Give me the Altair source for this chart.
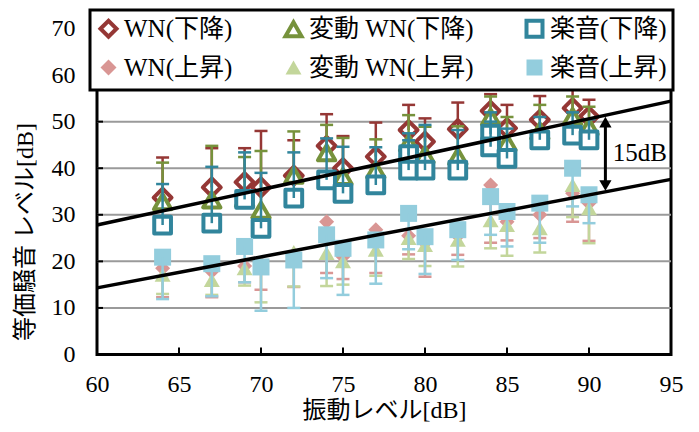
import altair as alt
import pandas as pd

FONT = "Liberation Serif, Times New Roman, serif, Noto Sans CJK JP"

series_names = ["WN(下降)", "変動 WN(下降)", "楽音(下降)", "WN(上昇)", "変動 WN(上昇)", "楽音(上昇)"]
shapes = ["diamond", "triangle-up", "square", "diamond", "triangle-up", "square"]
bar_colors = ["#953735", "#76923C", "#31859C", "#D99694", "#C3D69B", "#93CDDD"]
fills = ["white", "white", "white", "#D99694", "#C3D69B", "#93CDDD"]
strokes = ["#953735", "#76923C", "#31859C", "transparent", "transparent", "transparent"]
msizes = [320, 300, 280, 225, 256, 289]

X_TICKS = [60, 65, 70, 75, 80, 85, 90, 95]
Y_TICKS = [0, 10, 20, 30, 40, 50, 60, 70]
GRID_Y = [10, 20, 30, 40, 50, 60]

xs16 = [64, 67, 69, 70, 72, 74, 75, 77, 79, 80, 82, 84, 85, 87, 89, 90]

wn_down_x = xs16
wn_down_y = [33.7, 35.9, 37.0, 35.9, 38.4, 44.8, 40.0, 42.5, 48.2, 45.7, 48.4, 52.3, 48.6, 50.4, 52.9, 51.1]
wn_down_e = [42.3, 44.3, 44.3, 48.0, 46.0, 51.6, 46.9, 49.8, 53.6, 50.7, 54.1, 55.9, 53.6, 55.5, 57.2, 54.7]

vwn_down_x = xs16
vwn_down_y = [32.8, 33.2, 33.5, 31.0, 38.5, 43.3, 38.2, 39.6, 45.4, 42.9, 42.5, 51.0, 45.5, 48.0, 51.1, 48.9]
vwn_down_e = [41.2, 44.8, 42.4, 43.7, 47.9, 49.3, 46.5, 46.2, 51.4, 48.9, 49.0, 55.4, 51.0, 53.6, 55.4, 53.2]

mu_down_x = [64, 67, 69, 70, 72, 74, 75, 77, 79, 79, 80, 82, 84, 84, 85, 87, 89, 90]
mu_down_y = [27.8, 28.2, 33.3, 27.1, 33.6, 37.5, 34.6, 36.4, 42.9, 39.6, 39.6, 39.6, 47.3, 44.6, 42.1, 46.1, 47.1, 46.1]
mu_down_e = [36.6, 40.3, 43.4, 39.0, 43.4, 46.4, 44.6, 44.5, 47.5, 46.0, 49.3, 48.2, 52.0, 50.0, 48.5, 51.0, 52.0, 50.5]

wn_up_x = xs16
wn_up_y = [18.5, 17.8, 19.0, 19.5, 21.0, 28.5, 21.0, 26.8, 25.5, 24.0, 25.5, 36.4, 28.5, 30.0, 34.6, 32.5]
wn_up_e = [12.3, 12.3, 15.5, 13.9, 14.5, 17.5, 16.2, 17.5, 21.5, 16.7, 21.4, 24.0, 24.5, 25.0, 28.5, 24.4]

vwn_up_x = xs16
vwn_up_y = [17.1, 16.0, 18.5, 19.5, 22.0, 21.8, 20.0, 22.5, 25.0, 23.5, 24.6, 28.8, 27.8, 27.1, 36.4, 31.4]
vwn_up_e = [13.0, 12.8, 14.8, 11.2, 14.6, 14.7, 15.0, 16.9, 20.5, 19.0, 18.9, 22.8, 21.2, 21.9, 29.5, 23.9]

mu_up_x = xs16
mu_up_y = [20.9, 19.5, 23.2, 18.8, 20.3, 25.7, 22.8, 24.6, 30.3, 25.3, 26.8, 33.9, 30.7, 32.5, 40.0, 34.3]
mu_up_e = [11.9, 12.5, 15.5, 9.4, 10.0, 16.4, 12.8, 15.2, 22.6, 17.3, 20.3, 25.7, 23.2, 24.0, 31.8, 28.2]

trend_x = [60, 95]
upper_y = [27.8, 54.4]
lower_y = [14.3, 37.6]

arrow_x = 91.0
arrow_top = 51.0
arrow_bottom = 35.2
label_x = 91.45
label_y = 43.3

series_data = [
    (wn_down_x, wn_down_y, wn_down_e),
    (vwn_down_x, vwn_down_y, vwn_down_e),
    (mu_down_x, mu_down_y, mu_down_e),
    (wn_up_x, wn_up_y, wn_up_e),
    (vwn_up_x, vwn_up_y, vwn_up_e),
    (mu_up_x, mu_up_y, mu_up_e),
]

rows = []
for i, (sx, sy, se) in enumerate(series_data):
    for a, b, c in zip(sx, sy, se):
        rows.append({"series": series_names[i], "x": a, "y": b, "err": c, "msize": msizes[i]})
df = pd.DataFrame(rows)

W, H = 574, 326

xscale = alt.Scale(domain=[60, 95], nice=False, zero=False)
yscale = alt.Scale(domain=[0, 70], nice=False, zero=False)

xaxis = alt.Axis(values=X_TICKS, grid=False, domain=False, ticks=False, tickSize=0,
                 labelFont=FONT, titleFont=FONT, labelColor="black", titleColor="black",
                 labelFontSize=24, labelFlush=False, labelPadding=18,
                 title="振動レベル[dB]", titleFontSize=24, titleFontWeight="normal",
                 titleY=56, titleBaseline="middle")
yaxis = alt.Axis(values=Y_TICKS, grid=False, domain=False, ticks=False, tickSize=0,
                 labelFont=FONT, titleFont=FONT, labelColor="black", titleColor="black",
                 labelFontSize=24, labelFlush=False, labelPadding=22,
                 title="等価騒音 レベル[dB]", titleFontSize=24, titleFontWeight="normal",
                 titleX=-72, titleY=203, titleBaseline="middle", titleAlign="center")


def X(f):
    return alt.X(f, type="quantitative", scale=xscale, axis=xaxis)


def Y(f):
    return alt.Y(f, type="quantitative", scale=yscale, axis=yaxis)


shape_s = alt.Scale(domain=series_names, range=shapes)
fill_s = alt.Scale(domain=series_names, range=fills)
stroke_s = alt.Scale(domain=series_names, range=strokes)
color_s = alt.Scale(domain=series_names, range=bar_colors)

legend = alt.Legend(title=None, orient="none", legendX=-7, legendY=-18.5, columns=3,
                    direction="horizontal", labelFont=FONT, labelColor="black",
                    columnPadding=44, rowPadding=6, symbolSize=256, symbolStrokeWidth=4,
                    labelFontSize=25, labelLimit=400, labelOffset=3, padding=6)

grid_df = pd.DataFrame({"y": GRID_Y})
grid = alt.Chart(grid_df).mark_rule(color="#9a9a9a", strokeWidth=2).encode(y=Y("y"))

xt_df = pd.DataFrame({"x": X_TICKS[1:-1]})
xticks = alt.Chart(xt_df).mark_rule(color="black", strokeWidth=2).encode(
    x=X("x"), y=alt.value(H), y2=alt.value(H - 7))
yt_df = pd.DataFrame({"y": GRID_Y})
yticks = alt.Chart(yt_df).mark_rule(color="black", strokeWidth=2).encode(
    y=Y("y"), x=alt.value(0), x2=alt.value(6))

layers = [grid, xticks, yticks]

for name in series_names:
    sub = alt.Chart(df).transform_filter(alt.datum.series == name)
    pts = sub.mark_point(filled=True, strokeWidth=4, opacity=1, strokeJoin="round").encode(
        x=X("x"), y=Y("y"),
        shape=alt.Shape("series:N", scale=shape_s, legend=legend),
        fill=alt.Fill("series:N", scale=fill_s, legend=legend),
        stroke=alt.Stroke("series:N", scale=stroke_s, legend=legend),
        size=alt.Size("msize:Q", scale=None, legend=None),
    )
    stems = sub.mark_rule(strokeWidth=2.5).encode(
        x=X("x"), y=Y("y"), y2="err:Q",
        color=alt.Color("series:N", scale=color_s, legend=None))
    caps = sub.mark_tick(orient="horizontal", size=13, thickness=2.5, opacity=1).encode(
        x=X("x"), y=Y("err"),
        color=alt.Color("series:N", scale=color_s, legend=None))
    layers += [pts, stems, caps]

trend_df = pd.DataFrame({
    "x": trend_x + trend_x,
    "y": upper_y + lower_y,
    "g": ["u", "u", "l", "l"],
})
trend = alt.Chart(trend_df).mark_line(color="black", strokeWidth=3.5).encode(
    x=X("x"), y=Y("y"), detail="g:N")

arr_df = pd.DataFrame({"x": [arrow_x], "y": [arrow_top - 1.5], "y2": [arrow_bottom + 1.5]})
shaft = alt.Chart(arr_df).mark_rule(color="black", strokeWidth=3).encode(
    x=X("x"), y=Y("y"), y2="y2:Q")
head_df = pd.DataFrame({"x": [arrow_x, arrow_x], "y": [arrow_top - 1.1, arrow_bottom + 1.1],
                        "s": ["triangle-up", "triangle-down"]})
heads = alt.Chart(head_df).mark_point(filled=True, color="black", opacity=1, size=150).encode(
    x=X("x"), y=Y("y"), shape=alt.Shape("s:N", scale=None, legend=None))
lab_df = pd.DataFrame({"x": [label_x], "y": [label_y], "t": ["15dB"]})
lab = alt.Chart(lab_df).mark_text(align="left", baseline="middle", fontSize=25, font=FONT,
                                  color="black").encode(x=X("x"), y=Y("y"), text="t:N")

layers += [trend, shaft, heads, lab]

chart = alt.layer(*layers).properties(
    width=W, height=H,
    autosize=alt.AutoSizeParams(type="none"),
    padding={"left": 89, "top": 20.5, "right": 20, "bottom": 70},
).configure_view(stroke="black", strokeWidth=3).configure_axis(
    labelFont=FONT, titleFont=FONT, labelColor="black", titleColor="black"
).configure_legend(
    labelFont=FONT, labelColor="black", strokeColor="black", fillColor="white", strokeWidth=3
)

chart.save("out.html", embed_options={"renderer": "svg", "actions": False})
